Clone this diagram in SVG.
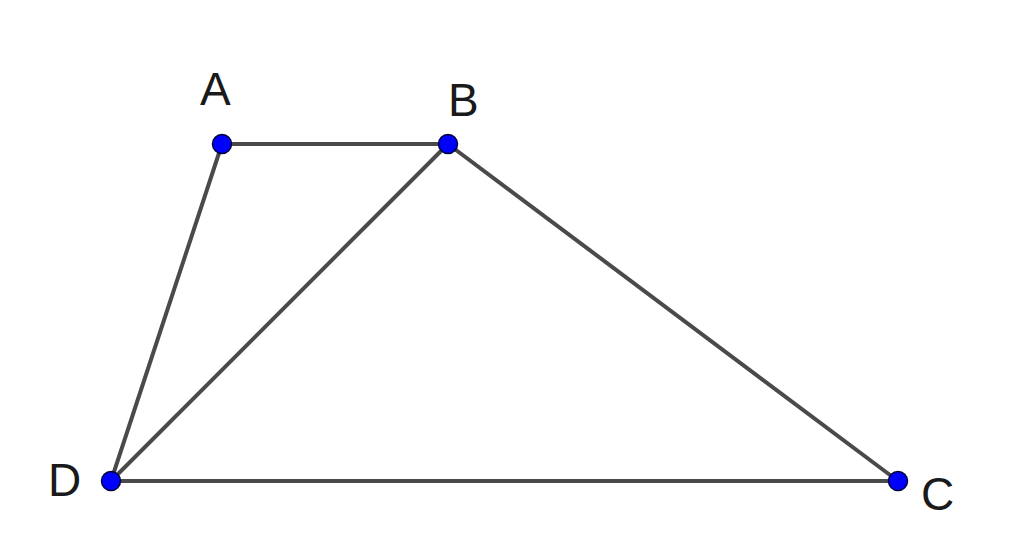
<svg xmlns="http://www.w3.org/2000/svg" width="1024" height="556" viewBox="0 0 1024 556">
<style>
.seg{stroke:#4a4a4a;stroke-width:4;stroke-linecap:round;fill:none}
.pt{fill:#0000ff;stroke:#00003c;stroke-width:1.5}
.lbl{font-family:"Liberation Sans",Arial,sans-serif;font-size:46px;fill:#1a1a1a}
</style>
<rect width="1024" height="556" fill="#ffffff"/>
<g id="connectors">
<line class="seg" x1="222" y1="144" x2="448" y2="144"/>
<line class="seg" x1="222" y1="144" x2="111" y2="481"/>
<line class="seg" x1="448" y1="144" x2="111" y2="481"/>
<line class="seg" x1="448" y1="144" x2="898" y2="481"/>
<line class="seg" x1="111" y1="481" x2="898" y2="481"/>
</g>
<g id="A"><circle class="pt" cx="222" cy="144" r="9.5"/><text class="lbl" x="200" y="105">A</text></g>
<g id="B"><circle class="pt" cx="448" cy="144" r="9.5"/><text class="lbl" x="448" y="116">B</text></g>
<g id="D"><circle class="pt" cx="111" cy="481" r="9.5"/><text class="lbl" x="48" y="496">D</text></g>
<g id="C"><circle class="pt" cx="898" cy="481" r="9.5"/><text class="lbl" x="921" y="510">C</text></g>
</svg>
